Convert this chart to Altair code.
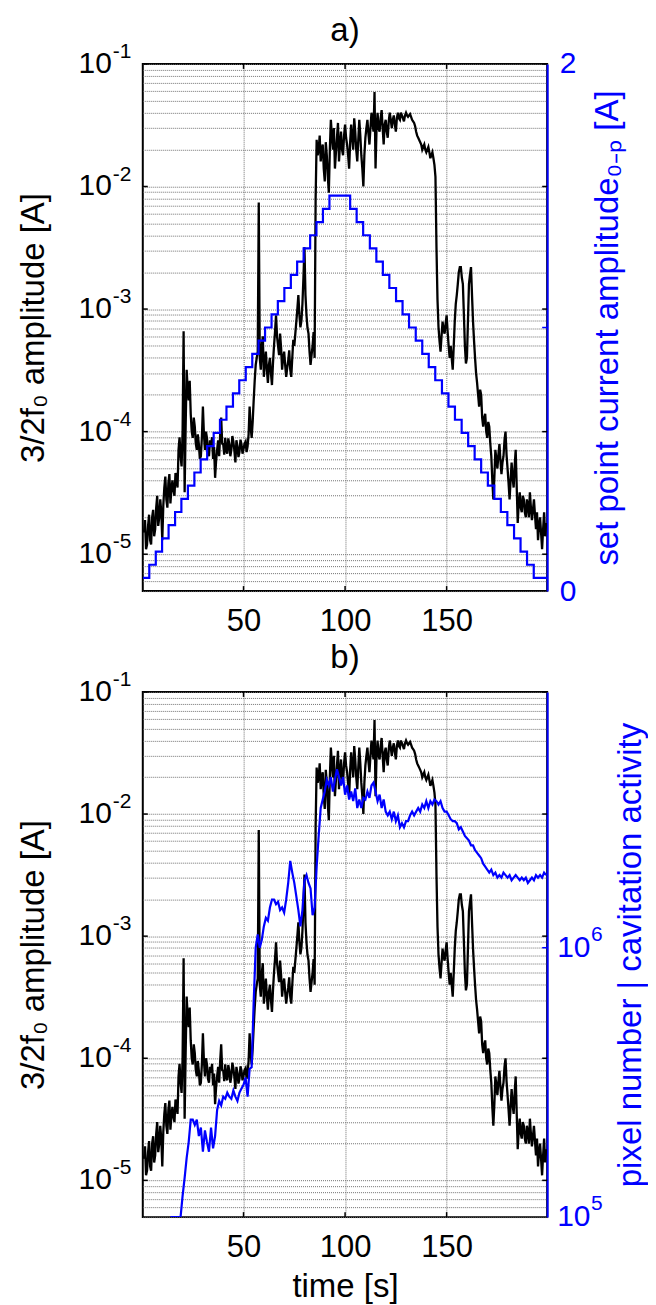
import altair as alt
import pandas as pd

# ---------------- data ----------------
# 3/2 f0 amplitude [A], whole-second samples (plus three sharp spikes)
BLACK_T = [
    1, 2, 3, 4, 5, 6, 7, 8, 9, 10,
    11, 12, 13, 14, 15, 16, 17, 18, 19, 20, 20.5,
    21, 22, 23, 24, 25, 26, 27, 28, 29, 30,
    31, 32, 33, 34, 35, 36, 37, 38, 39, 40,
    41, 42, 43, 44, 45, 46, 47, 48, 49, 50,
    51, 52, 53, 54, 55, 56, 57, 57.5, 58, 59, 60,
    61, 62, 63, 64, 65, 66, 67, 68, 69, 70,
    71, 72, 73, 74, 75, 76, 77, 78, 79, 80,
    81, 82, 83, 84, 85, 86, 87, 88, 89, 90,
    91, 92, 93, 94, 95, 96, 97, 98, 99, 100,
    101, 102, 103, 104, 105, 106, 107, 108, 109, 110,
    111, 112, 113, 114, 114.5, 115, 116, 117, 118, 119, 120,
    121, 122, 123, 124, 125, 126, 127, 128, 129, 130,
    131, 132, 133, 134, 135, 136, 137, 138, 139, 140,
    141, 142, 143, 144, 145, 146, 147, 148, 149, 150,
    151, 152, 153, 154, 155, 156, 157, 158, 159, 160,
    161, 162, 163, 164, 165, 166, 167, 168, 169, 170,
    171, 172, 173, 174, 175, 176, 177, 178, 179, 180,
    181, 182, 183, 184, 185, 186, 187, 188, 189, 190,
    191, 192, 193, 194, 195, 196, 197, 198, 199,
]
BLACK_AMP = [
    1.5e-5, 1.1e-5, 1.7e-5, 1.3e-5, 2.0e-5, 1.4e-5, 2.4e-5, 1.7e-5, 2.8e-5, 1.3e-5,
    3.5e-5, 2.8e-5, 3.8e-5, 2.6e-5, 4.0e-5, 3.0e-5, 4.2e-5, 7.1e-5, 6.3e-5, 1.0e-4, 6.6e-4,
    3.2e-5, 3.2e-4, 1.8e-4, 1.4e-4, 8.9e-5, 1.1e-4, 7.1e-5, 7.9e-5, 6.3e-5, 1.6e-4,
    7.1e-5, 8.9e-5, 6.3e-5, 7.6e-5, 6.0e-5, 4.2e-5, 7.1e-5, 6.3e-5, 1.3e-4, 7.9e-5,
    8.9e-5, 6.6e-5, 7.9e-5, 7.1e-5, 8.3e-5, 5.6e-5, 7.6e-5, 6.8e-5, 7.9e-5, 7.2e-5,
    8.3e-5, 7.6e-5, 1.6e-4, 8.9e-5, 1.8e-4, 3.5e-4, 4.5e-4, 7.4e-3, 4.0e-4, 5.0e-4, 2.8e-4,
    4.5e-4, 2.5e-4, 4.0e-4, 2.4e-4, 5.0e-4, 8.9e-4, 5.0e-4, 6.3e-4, 3.2e-4, 4.5e-4,
    2.8e-4, 3.8e-4, 3.2e-4, 4.0e-4, 5.0e-4, 7.9e-4, 1.3e-3, 7.1e-4, 1.1e-3, 3.2e-3,
    8.9e-4, 6.3e-4, 3.5e-4, 5.0e-4, 4.0e-4, 2.4e-2, 2.0e-2, 1.6e-2, 2.2e-2, 1.1e-2,
    1.8e-2, 8.9e-3, 3.5e-2, 2.0e-2, 1.4e-2, 2.5e-2, 1.6e-2, 2.8e-2, 1.8e-2, 3.2e-2,
    2.2e-2, 1.4e-2, 3.2e-2, 2.0e-2, 2.8e-2, 1.6e-2, 3.5e-2, 1.8e-2, 1.0e-2, 2.5e-2,
    3.5e-2, 2.2e-2, 4.0e-2, 2.8e-2, 5.9e-2, 1.4e-2, 4.0e-2, 2.8e-2, 4.2e-2, 2.2e-2, 3.5e-2,
    2.5e-2, 4.0e-2, 3.0e-2, 3.8e-2, 2.8e-2, 4.0e-2, 3.5e-2, 3.8e-2, 3.4e-2, 4.0e-2,
    3.7e-2, 3.9e-2, 3.5e-2, 3.3e-2, 2.8e-2, 2.5e-2, 2.3e-2, 2.0e-2, 2.2e-2, 1.9e-2,
    2.1e-2, 1.7e-2, 1.9e-2, 1.5e-2, 3.2e-3, 7.1e-4, 4.5e-4, 7.9e-4, 6.3e-4, 8.9e-4,
    5.0e-4, 5.0e-4, 3.2e-4, 7.9e-4, 1.3e-3, 2.0e-3, 2.2e-3, 1.6e-3, 5.0e-4, 4.0e-4,
    1.6e-3, 2.2e-3, 7.9e-4, 4.0e-4, 2.5e-4, 1.6e-4, 2.0e-4, 1.1e-4, 1.4e-4, 8.9e-5,
    1.1e-4, 6.3e-5, 2.8e-5, 7.1e-5, 5.0e-5, 7.9e-5, 4.5e-5, 6.3e-5, 1.0e-4, 5.0e-5,
    2.8e-5, 5.6e-5, 3.5e-5, 7.1e-5, 1.8e-5, 3.2e-5, 2.2e-5, 2.8e-5, 2.0e-5, 2.5e-5,
    3.2e-5, 1.9e-5, 2.8e-5, 1.6e-5, 1.3e-5, 2.0e-5, 1.1e-5, 2.2e-5, 1.8e-5,
]
# the in-between (half-second) readings of the same noisy trace
BLACK_T_HALF = [
    1.5, 2.5, 3.5, 4.5, 5.5, 6.5, 7.5, 8.5, 9.5, 10.5,
    11.5, 12.5, 13.5, 14.5, 15.5, 16.5, 17.5, 18.5, 19.5,
    21.5, 22.5, 23.5, 24.5, 25.5, 26.5, 27.5, 28.5, 29.5, 30.5,
    31.5, 32.5, 33.5, 34.5, 35.5, 36.5, 37.5, 38.5, 39.5, 40.5,
    41.5, 42.5, 43.5, 44.5, 45.5, 46.5, 47.5, 48.5, 49.5, 50.5,
    51.5, 52.5, 53.5, 54.5, 55.5, 56.5,
    58.5, 59.5, 60.5,
    61.5, 62.5, 63.5, 64.5, 65.5, 66.5, 67.5, 68.5, 69.5, 70.5,
    71.5, 72.5, 73.5, 74.5, 75.5, 76.5, 77.5, 78.5, 79.5, 80.5,
    81.5, 82.5, 83.5, 84.5, 85.5, 86.5, 87.5, 88.5, 89.5, 90.5,
    91.5, 92.5, 93.5, 94.5, 95.5, 96.5, 97.5, 98.5, 99.5, 100.5,
    101.5, 102.5, 103.5, 104.5, 105.5, 106.5, 107.5, 108.5, 109.5, 110.5,
    111.5, 112.5, 113.5,
    115.5, 116.5, 117.5, 118.5, 119.5, 120.5,
    121.5, 122.5, 123.5, 124.5, 125.5, 126.5, 127.5, 128.5, 129.5, 130.5,
    131.5, 132.5, 133.5, 134.5, 135.5, 136.5, 137.5, 138.5, 139.5, 140.5,
    141.5, 142.5, 143.5, 144.5, 145.5, 146.5, 147.5, 148.5, 149.5, 150.5,
    151.5, 152.5, 153.5, 154.5, 155.5, 156.5, 157.5, 158.5, 159.5, 160.5,
    161.5, 162.5, 163.5, 164.5, 165.5, 166.5, 167.5, 168.5, 169.5, 170.5,
    171.5, 172.5, 173.5, 174.5, 175.5, 176.5, 177.5, 178.5, 179.5, 180.5,
    181.5, 182.5, 183.5, 184.5, 185.5, 186.5, 187.5, 188.5, 189.5, 190.5,
    191.5, 192.5, 193.5, 194.5, 195.5, 196.5, 197.5, 198.5,
]
BLACK_AMP_HALF = [
    1.9e-5, 1.2e-5, 2.1e-5, 1.2e-5, 2.3e-5, 1.6e-5, 3.0e-5, 2.0e-5, 2.2e-5, 2.5e-5,
    4.3e-5, 2.4e-5, 4.5e-5, 3.4e-5, 3.3e-5, 4.6e-5, 3.5e-5, 9.0e-5, 5.2e-5,
    1.1e-4, 2.2e-4, 2.6e-4, 1.0e-4, 1.3e-4, 8.0e-5, 9.5e-5, 6.0e-5, 9.0e-5, 9.5e-5,
    1.0e-4, 6.8e-5, 8.5e-5, 9.0e-5, 7.5e-5, 5.8e-5, 8.5e-5, 9.5e-5, 8.0e-5, 6.5e-5,
    7.0e-5, 8.8e-5, 6.3e-5, 9.2e-5, 7.0e-5, 8.5e-5, 6.2e-5, 8.6e-5, 6.6e-5, 8.0e-5,
    6.8e-5, 9.5e-5, 1.1e-4, 1.2e-4, 2.6e-4, 4.0e-4,
    3.2e-4, 6.0e-4, 3.6e-4,
    3.2e-4, 3.5e-4, 3.0e-4, 3.6e-4, 6.5e-4, 6.0e-4, 4.2e-4, 4.8e-4, 4.0e-4, 3.5e-4,
    3.3e-4, 4.6e-4, 2.8e-4, 5.6e-4, 6.3e-4, 1.0e-3, 9.0e-4, 8.0e-4, 1.8e-3, 1.3e-3,
    7.0e-4, 4.5e-4, 4.2e-4, 6.5e-4, 8.0e-3, 1.8e-2, 2.6e-2, 2.0e-2, 1.4e-2, 2.3e-2,
    1.2e-2, 2.0e-2, 2.6e-2, 3.0e-2, 1.9e-2, 3.3e-2, 2.2e-2, 2.0e-2, 2.6e-2, 2.5e-2,
    1.8e-2, 2.3e-2, 2.5e-2, 3.6e-2, 2.0e-2, 2.4e-2, 2.6e-2, 1.4e-2, 1.8e-2, 3.0e-2,
    2.7e-2, 3.0e-2, 3.3e-2,
    3.0e-2, 3.0e-2, 3.6e-2, 3.0e-2, 3.2e-2, 2.8e-2,
    3.4e-2, 3.5e-2, 3.5e-2, 3.2e-2, 3.6e-2, 3.6e-2, 4.0e-2, 3.6e-2, 3.8e-2, 3.8e-2,
    3.8e-2, 3.7e-2, 3.4e-2, 3.1e-2, 2.6e-2, 2.4e-2, 2.2e-2, 2.1e-2, 2.0e-2, 2.0e-2,
    1.9e-2, 1.8e-2, 1.7e-2, 1.2e-2, 1.2e-3, 5.5e-4, 6.0e-4, 6.8e-4, 7.6e-4, 6.5e-4,
    4.0e-4, 4.0e-4, 5.0e-4, 1.1e-3, 1.6e-3, 2.2e-3, 1.8e-3, 9.0e-4, 3.6e-4, 8.0e-4,
    1.9e-3, 1.3e-3, 5.5e-4, 3.0e-4, 2.0e-4, 2.2e-4, 1.3e-4, 1.3e-4, 1.0e-4, 1.2e-4,
    8.0e-5, 4.0e-5, 4.2e-5, 6.0e-5, 6.5e-5, 5.8e-5, 5.6e-5, 8.5e-5, 6.5e-5, 3.8e-5,
    4.0e-5, 4.2e-5, 5.2e-5, 3.6e-5, 2.6e-5, 2.4e-5, 3.0e-5, 2.2e-5, 2.8e-5, 2.0e-5,
    2.4e-5, 2.3e-5, 2.1e-5, 2.2e-5, 1.7e-5, 1.5e-5, 1.6e-5, 1.4e-5,
]

# set point current amplitude (0-P) [A]: start time and level of every step
STEP_T = [
    0.4, 3.6, 6.8, 9.9, 13.1, 16.3, 19.4, 22.6, 25.8, 28.9,
    32.1, 35.3, 38.4, 41.6, 44.8, 47.9, 51.1, 54.3, 57.4, 60.6,
    63.8, 66.9, 70.1, 73.3, 76.4, 79.6, 82.8, 85.9, 89.1, 92.3,
    102.5, 105.7, 108.9, 112.2, 115.4, 118.6, 121.8, 125.1, 128.3, 131.5,
    134.8, 138.0, 141.2, 144.4, 147.7, 150.9, 154.1, 157.4, 160.6, 163.8,
    167.0, 170.3, 173.5, 176.7, 179.9, 183.2, 186.4, 189.6, 192.9, 199.5,
]
STEP_A = [
    0.05, 0.10, 0.15, 0.20, 0.25, 0.30, 0.35, 0.40, 0.45, 0.50,
    0.55, 0.60, 0.65, 0.70, 0.75, 0.80, 0.85, 0.90, 0.95, 1.00,
    1.05, 1.10, 1.15, 1.20, 1.25, 1.30, 1.35, 1.40, 1.45, 1.50,
    1.45, 1.40, 1.35, 1.30, 1.25, 1.20, 1.15, 1.10, 1.05, 1.00,
    0.95, 0.90, 0.85, 0.80, 0.75, 0.70, 0.65, 0.60, 0.55, 0.50,
    0.45, 0.40, 0.35, 0.30, 0.25, 0.20, 0.15, 0.10, 0.05, 0.05,
]

# pixel number | cavitation activity
BLUE_T = [
    14, 19, 20,
    21, 22, 23, 24, 25, 26, 27, 28, 29, 30,
    31, 32, 33, 34, 35, 36, 37, 38, 39, 40,
    41, 42, 43, 44, 45, 46, 47, 48, 49, 50,
    51, 52, 53, 54, 55, 56, 57, 58, 59, 60,
    61, 62, 63, 64, 65, 66, 67, 68, 69, 70,
    71, 72, 73, 74, 75, 76, 77, 78, 79, 80,
    81, 82, 83, 84, 85, 86, 87, 88, 89, 90,
    91, 92, 93, 94, 95, 96, 97, 98, 99, 100,
    101, 102, 103, 104, 105, 106, 107, 108, 109, 110,
    111, 112, 113, 114, 115, 116, 117, 118, 119, 120,
    121, 122, 123, 124, 125, 126, 127, 128, 129, 130,
    131, 132, 133, 134, 135, 136, 137, 138, 139, 140,
    141, 142, 143, 144, 145, 146, 147, 148, 149, 150,
    151, 152, 153, 154, 155, 156, 157, 158, 159, 160,
    161, 162, 163, 164, 165, 166, 167, 168, 169, 170,
    171, 172, 173, 174, 175, 176, 177, 178, 179, 180,
    181, 182, 183, 184, 185, 186, 187, 188, 189, 190,
    191, 192, 193, 194, 195, 196, 197, 198, 199,
]
BLUE_PIX = [
    1.0e5, 1.0e5, 1.2e5,
    1.4e5, 1.66e5, 1.9e5, 2.3e5, 2.3e5, 2.2e5, 2.3e5, 2.0e5, 2.15e5, 1.75e5,
    2.1e5, 1.9e5, 1.75e5, 2.15e5, 1.8e5, 2.0e5, 2.5e5, 2.7e5, 2.6e5, 2.8e5,
    2.75e5, 2.9e5, 2.8e5, 2.75e5, 2.95e5, 2.8e5, 2.7e5, 2.9e5, 3.0e5, 3.1e5,
    3.3e5, 2.8e5, 3.55e5, 3.6e5, 6.3e5, 1.0e6, 1.12e6, 1.0e6, 1.07e6, 1.2e6,
    1.29e6, 1.26e6, 1.41e6, 1.51e6, 1.51e6, 1.45e6, 1.48e6, 1.38e6, 1.41e6, 1.35e6,
    1.51e6, 1.74e6, 2.1e6, 1.9e6, 1.74e6, 1.55e6, 1.38e6, 1.2e6, 1.38e6, 1.78e6,
    1.86e6, 1.74e6, 1.66e6, 1.32e6, 1.41e6, 2.0e6, 2.6e6, 3.3e6, 3.55e6, 3.8e6,
    4.2e6, 4.0e6, 4.3e6, 3.8e6, 4.2e6, 4.6e6, 4.3e6, 4.0e6, 4.3e6, 3.7e6,
    4.0e6, 3.55e6, 3.8e6, 3.5e6, 3.9e6, 3.3e6, 3.55e6, 3.3e6, 3.6e6, 3.55e6,
    3.8e6, 3.6e6, 4.0e6, 4.1e6, 3.8e6, 3.5e6, 3.7e6, 3.3e6, 3.55e6, 3.2e6,
    3.1e6, 3.2e6, 3.0e6, 3.2e6, 2.95e6, 3.1e6, 2.8e6, 2.9e6, 2.8e6, 2.95e6,
    2.95e6, 3.1e6, 3.2e6, 3.1e6, 3.2e6, 3.3e6, 3.2e6, 3.4e6, 3.3e6, 3.5e6,
    3.3e6, 3.5e6, 3.4e6, 3.55e6, 3.5e6, 3.4e6, 3.5e6, 3.3e6, 3.2e6, 3.2e6,
    3.1e6, 3.0e6, 2.95e6, 2.95e6, 2.9e6, 2.75e6, 2.8e6, 2.7e6, 2.6e6, 2.55e6,
    2.5e6, 2.4e6, 2.4e6, 2.3e6, 2.25e6, 2.2e6, 2.15e6, 2.05e6, 2.0e6, 1.95e6,
    1.9e6, 1.95e6, 1.86e6, 1.9e6, 1.82e6, 1.86e6, 1.82e6, 1.9e6, 1.86e6, 1.82e6,
    1.86e6, 1.78e6, 1.82e6, 1.86e6, 1.82e6, 1.78e6, 1.82e6, 1.78e6, 1.82e6, 1.74e6,
    1.78e6, 1.82e6, 1.78e6, 1.86e6, 1.82e6, 1.86e6, 1.82e6, 1.9e6, 1.86e6,
]

PANEL_LABELS = ["a)", "b)"]
LEFT_DECADES = [1e-5, 1e-4, 1e-3, 1e-2, 1e-1]
LEFT_EXPONENTS = ["-5", "-4", "-3", "-2", "-1"]
RIGHT_DECADES = [1e5, 1e6]
RIGHT_EXPONENTS = ["5", "6"]
LEFT_GRID = [
    5e-6, 6e-6, 7e-6, 8e-6, 9e-6,
    1e-5, 2e-5, 3e-5, 4e-5, 5e-5, 6e-5, 7e-5, 8e-5, 9e-5,
    1e-4, 2e-4, 3e-4, 4e-4, 5e-4, 6e-4, 7e-4, 8e-4, 9e-4,
    1e-3, 2e-3, 3e-3, 4e-3, 5e-3, 6e-3, 7e-3, 8e-3, 9e-3,
    1e-2, 2e-2, 3e-2, 4e-2, 5e-2, 6e-2, 7e-2, 8e-2, 9e-2,
    1e-1,
]
X_TICKS = [50, 100, 150]
SET_TICKS = [0, 1, 2]
SET_INNER_TICKS = [1]
PIX_INNER_TICKS = [1e6]

# ---------------- styling ----------------
W = 405
H_A = 528
H_B = 526
FONT = "Liberation Sans"
BLUE = "#0000ff"
GRID = "#707070"
TICK_LEN = 5

black_df = pd.concat([
    pd.DataFrame({"t": BLACK_T, "amp": BLACK_AMP}),
    pd.DataFrame({"t": BLACK_T_HALF, "amp": BLACK_AMP_HALF}),
]).sort_values("t").reset_index(drop=True)
step_df = pd.DataFrame({"t": STEP_T, "a": STEP_A})
blue_df = pd.DataFrame({"t": BLUE_T, "pix": BLUE_PIX})
dec_left = pd.DataFrame({"v": LEFT_DECADES, "m": ["10"] * len(LEFT_DECADES), "e": LEFT_EXPONENTS})
dec_right = pd.DataFrame({"v": RIGHT_DECADES, "m": ["10"] * len(RIGHT_DECADES), "e": RIGHT_EXPONENTS})
xt_df = pd.DataFrame({"t": X_TICKS})
set_t_df = pd.DataFrame({"v": SET_INNER_TICKS})
pix_t_df = pd.DataFrame({"v": PIX_INNER_TICKS})


def x_scale():
    return alt.Scale(domain=[0.4, 199.5], nice=False, zero=False)


def left_scale():
    return alt.Scale(type="log", domain=[5e-6, 0.1], nice=False)


def set_scale():
    return alt.Scale(domain=[0, 2], nice=False, zero=False)


def pix_scale():
    return alt.Scale(type="log", domain=[1e5, 8.9e6], nice=False)


def x_axis(with_title):
    kw = dict(
        values=X_TICKS, grid=True, gridColor=GRID, gridDash=[1, 1], gridWidth=1,
        ticks=False, domain=False,
        labelFont=FONT, labelFontSize=31, labelColor="black",
        labelBaseline="alphabetic", labelPadding=39, labelFlush=False,
    )
    if with_title:
        kw.update(
            title="time [s]",
            titleFont=FONT, titleFontSize=33, titleFontWeight="normal",
            titleColor="black", titleBaseline="alphabetic", titleY=79,
            titleX=W / 2, titleAlign="center",
        )
    else:
        kw.update(title="")
    return alt.Axis(**kw)


def xenc(with_title):
    return alt.X("t:Q", scale=x_scale(), axis=x_axis(with_title))


def left_axis(H):
    return alt.Axis(
        orient="left", title="3/2f\u2080 amplitude [A]",
        values=LEFT_GRID, grid=True, gridColor=GRID, gridDash=[1, 1], gridWidth=1,
        labels=False, ticks=False, domain=False,
        titleFont=FONT, titleFontSize=33, titleFontWeight="normal", titleColor="black",
        titleAngle=270, titleBaseline="alphabetic", titleAlign="center",
        titleX=-99, titleY=H / 2,
    )


def left_layers(H, with_xtitle, label_idx, label_y):
    black = alt.Chart(black_df).mark_line(color="black", strokeWidth=2.3, clip=True).encode(
        x=xenc(with_xtitle),
        y=alt.Y("amp:Q", scale=left_scale(), axis=left_axis(H)),
    )
    ylab = alt.Y("v:Q", scale=left_scale(), axis=None)
    lab10 = alt.Chart(dec_left).mark_text(
        align="right", baseline="middle", font=FONT, fontSize=30, color="black"
    ).encode(x=alt.value(-31), y=ylab, text="m:N")
    labexp = alt.Chart(dec_left).mark_text(
        align="left", baseline="middle", font=FONT, fontSize=21, dy=-12, color="black"
    ).encode(x=alt.value(-30), y=ylab, text="e:N")
    tick_l = alt.Chart(dec_left).mark_rule(color="black", strokeWidth=1.5).encode(
        x=alt.value(0), x2=alt.value(TICK_LEN), y=ylab)
    tick_r = alt.Chart(dec_left).mark_rule(color="black", strokeWidth=1.5).encode(
        x=alt.value(W - TICK_LEN), x2=alt.value(W), y=ylab)
    xt_b = alt.Chart(xt_df).mark_rule(color="black", strokeWidth=1.5).encode(
        x=xenc(with_xtitle), y=alt.value(H - TICK_LEN), y2=alt.value(H))
    xt_t = alt.Chart(xt_df).mark_rule(color="black", strokeWidth=1.5).encode(
        x=xenc(with_xtitle), y=alt.value(0), y2=alt.value(TICK_LEN))
    lbl = alt.Chart(pd.DataFrame({"s": [PANEL_LABELS[label_idx]]})).mark_text(
        align="center", baseline="alphabetic", font=FONT, fontSize=33, color="black"
    ).encode(x=alt.value(W / 2), y=alt.value(label_y), text="s:N")
    return [black, lab10, labexp, tick_l, tick_r, xt_b, xt_t, lbl]


def right_title_kw(H, tx):
    return dict(
        titleFont=FONT, titleFontSize=33, titleFontWeight="normal", titleColor=BLUE,
        titleAngle=270, titleBaseline="alphabetic", titleAlign="center",
        titleX=tx, titleY=H / 2,
    )


# ---------------- panel a ----------------
step = alt.Chart(step_df).mark_line(
    color=BLUE, strokeWidth=2.2, interpolate="step-after", clip=True
).encode(
    x=xenc(False),
    y=alt.Y(
        "a:Q", scale=set_scale(),
        axis=alt.Axis(
            orient="right", title="set point current amplitude\u2080\u208b\u209a [A]",
            values=SET_TICKS, format="d", grid=False, ticks=False,
            domain=True, domainColor=BLUE, domainWidth=2,
            labelColor=BLUE, labelFont=FONT, labelFontSize=30, labelPadding=12,
            **right_title_kw(H_A, 70),
        ),
    ),
)
set_ticks = alt.Chart(set_t_df).mark_rule(color=BLUE, strokeWidth=1.5).encode(
    x=alt.value(W - TICK_LEN), x2=alt.value(W),
    y=alt.Y("v:Q", scale=set_scale(), axis=None))

panel_a = alt.layer(
    *left_layers(H_A, False, 0, -23), step, set_ticks
).resolve_scale(y="independent").properties(width=W, height=H_A)

# ---------------- panel b ----------------
blue = alt.Chart(blue_df).mark_line(color=BLUE, strokeWidth=2.2, clip=True).encode(
    x=xenc(True),
    y=alt.Y(
        "pix:Q", scale=pix_scale(),
        axis=alt.Axis(
            orient="right", title="pixel number | cavitation activity",
            values=RIGHT_DECADES, grid=False, ticks=False,
            labels=False, domain=True, domainColor=BLUE, domainWidth=2,
            **right_title_kw(H_B, 93),
        ),
    ),
)
rlab10 = alt.Chart(dec_right).mark_text(
    align="left", baseline="middle", font=FONT, fontSize=30, color=BLUE
).encode(x=alt.value(W + 10), y=alt.Y("v:Q", scale=pix_scale(), axis=None), text="m:N")
rlabexp = alt.Chart(dec_right).mark_text(
    align="left", baseline="middle", font=FONT, fontSize=21, dy=-13, color=BLUE
).encode(x=alt.value(W + 44), y=alt.Y("v:Q", scale=pix_scale(), axis=None), text="e:N")
pix_ticks = alt.Chart(pix_t_df).mark_rule(color=BLUE, strokeWidth=1.5).encode(
    x=alt.value(W - TICK_LEN), x2=alt.value(W),
    y=alt.Y("v:Q", scale=pix_scale(), axis=None))

panel_b = alt.layer(
    *left_layers(H_B, True, 1, -24), blue, rlab10, rlabexp, pix_ticks
).resolve_scale(y="independent").properties(width=W, height=H_B)

chart = alt.vconcat(panel_a, panel_b, spacing=101, bounds="flush").properties(
    padding={"left": 9, "top": 5, "right": 0, "bottom": 0}
).configure_view(stroke="black", strokeWidth=2)

chart.save("out.html", embed_options={"renderer": "svg", "actions": False})
